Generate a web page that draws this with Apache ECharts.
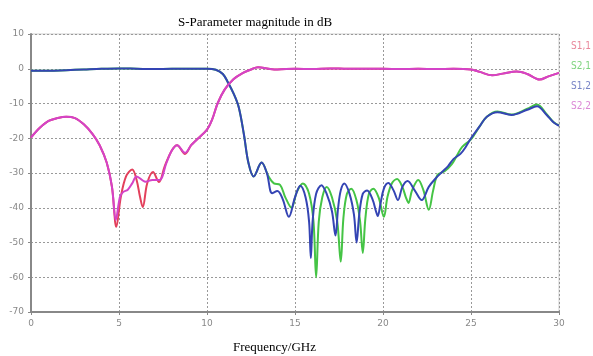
<!DOCTYPE html>
<html>
<head>
<meta charset="utf-8">
<script src="https://cdn.jsdelivr.net/npm/echarts@6/dist/echarts.min.js"></script>
<style>html,body{margin:0;padding:0;background:#fff}#c{width:593px;height:356px}</style>
</head>
<body>
<div id="c"></div>
<script>
var seriesNames = ['S1,1', 'S2,1', 'S1,2', 'S2,2'];
var xTicks = [0, 5, 10, 15, 20, 25, 30];
var yTicks = [10, 0, -10, -20, -30, -40, -50, -60, -70];

var s11 = [[0,-19.8],[0.5,-17],[1,-15],[1.5,-14.2],[2,-13.8],[2.5,-14.2],[3,-16],[3.5,-18.8],[3.9,-22],[4.3,-27],[4.6,-34],[4.85,-45.5],[5.1,-37],[5.4,-31],[5.75,-29],[6.0,-32],[6.2,-37],[6.35,-39.8],[6.6,-33],[6.93,-29.7],[7.27,-32.6],[7.6,-28],[8.0,-23.5],[8.3,-22],[8.75,-24.5],[9.1,-22],[9.4,-20.5],[10,-17.5],[10.3,-14.5],[10.6,-10],[11,-6],[11.5,-3],[12,-1.3],[12.5,-0.2],[12.9,0.4],[13.5,0],[14,-0.2],[15,0],[16,-0.1],[17,0.1],[18,0],[19,0],[20,0],[21,-0.1],[22,0],[23,-0.1],[24,0],[25,-0.2],[25.5,-0.9],[26.2,-1.9],[26.8,-1.4],[27.6,-0.8],[28.2,-1.5],[28.9,-3.1],[29.4,-2.2],[30,-1.2]];

var s22 = [[0,-19.8],[0.5,-17],[1,-15],[1.5,-14.2],[2,-13.8],[2.5,-14.2],[3,-16],[3.5,-18.8],[3.9,-22],[4.3,-27],[4.6,-34],[4.82,-43.5],[5.05,-37],[5.23,-35.5],[5.5,-34.8],[5.75,-33],[6.0,-31],[6.5,-32.5],[6.9,-32],[7.3,-32],[7.7,-27],[8.0,-23.5],[8.3,-22],[8.75,-24.2],[9.1,-22],[9.4,-20.5],[10,-17.5],[10.3,-14.5],[10.6,-10],[11,-6],[11.5,-3],[12,-1.3],[12.5,-0.2],[12.9,0.4],[13.5,0],[14,-0.2],[15,0],[16,-0.1],[17,0.1],[18,0],[19,0],[20,0],[21,-0.1],[22,0],[23,-0.1],[24,0],[25,-0.2],[25.5,-0.9],[26.2,-1.9],[26.8,-1.4],[27.6,-0.8],[28.2,-1.5],[28.9,-3.1],[29.4,-2.2],[30,-1.2]];

var s12 = [[0,-0.6],[1,-0.6],[2,-0.4],[3,-0.2],[4,0],[5,0.1],[6,0],[7,-0.1],[8,0],[9,0],[10,0],[10.5,-0.3],[10.9,-1.5],[11.2,-4],[11.5,-7],[11.8,-11],[12.1,-19],[12.35,-27],[12.65,-31],[13.1,-27],[13.4,-30],[13.7,-35.8],[14.0,-35.2],[14.3,-37.5],[14.65,-42.6],[15.0,-37],[15.3,-33.7],[15.6,-37],[15.8,-44],[15.9,-54.5],[16.0,-44],[16.2,-36],[16.5,-33.5],[16.8,-36],[17.1,-41],[17.3,-48],[17.45,-40],[17.6,-35],[17.8,-33],[18.1,-36],[18.35,-42],[18.5,-50],[18.65,-42],[18.85,-36],[19.1,-35],[19.4,-37.5],[19.6,-41],[19.7,-42.4],[19.85,-39],[20.05,-34.5],[20.3,-32.9],[20.6,-35],[20.85,-37.8],[21.1,-34],[21.4,-32.3],[21.8,-35],[22.2,-37.8],[22.6,-34],[23.0,-31.5],[23.4,-29.5],[23.7,-28],[24.0,-26],[24.4,-24.5],[24.7,-22.5],[25.0,-20],[25.5,-16.5],[25.9,-13.8],[26.5,-12.5],[27.3,-13.3],[28.2,-11.8],[28.75,-10.8],[29.3,-13.3],[29.7,-15.5],[30,-16.4]];

var s21 = [[0,-0.6],[1,-0.6],[2,-0.4],[3,-0.2],[4,0],[5,0.1],[6,0],[7,-0.1],[8,0],[9,0],[10,0],[10.5,-0.3],[10.9,-1.5],[11.2,-4],[11.5,-7],[11.8,-11],[12.1,-19],[12.35,-27],[12.65,-31],[13.1,-27],[13.5,-31],[13.8,-33],[14.15,-33.4],[14.45,-37],[14.8,-40],[15.1,-35.5],[15.45,-33],[15.8,-36],[16.05,-44],[16.2,-60],[16.35,-44],[16.55,-37],[16.8,-34],[17.1,-37],[17.4,-44],[17.6,-55.5],[17.75,-43],[17.95,-36],[18.2,-34.5],[18.5,-38],[18.7,-44],[18.85,-53],[19.0,-43],[19.2,-36],[19.45,-34.5],[19.75,-37],[20.05,-42.6],[20.25,-37],[20.5,-33],[20.8,-31.7],[21.1,-34],[21.3,-37],[21.45,-38.6],[21.65,-35],[22.0,-32],[22.3,-35],[22.6,-40.6],[22.85,-35],[23.1,-30.5],[23.5,-29.5],[23.9,-27.5],[24.2,-25],[24.5,-22.5],[25.0,-20.3],[25.5,-16.5],[25.9,-13.8],[26.5,-12.3],[27.3,-13.2],[28.2,-11.5],[28.75,-10.3],[29.3,-13.1],[29.7,-15.4],[30,-16.3]];

var lineColors = {'S1,1':'#e3405c','S2,1':'#45c445','S1,2':'#3444b4','S2,2':'#d443c8'};
var legendColors = {'S1,1':'#e9879b','S2,1':'#7fd47f','S1,2':'#7884c6','S2,2':'#dc88d6'};

var chart = echarts.init(document.getElementById('c'), null, {renderer:'canvas'});
function mk(name, data, z){
  return {name:name, type:'line', data:data, smooth:0.35, symbol:'none', z:z,
    lineStyle:{color:lineColors[name], width:2}, itemStyle:{color:lineColors[name]}};
}
chart.setOption({
  animation:false,
  title:{text:'S-Parameter magnitude in dB', left:173, top:11,
    textStyle:{fontFamily:'Liberation Serif', fontSize:13, fontWeight:'normal', color:'#000'}},
  legend:{orient:'vertical', left:561, top:35, itemWidth:0, itemHeight:0, itemGap:7,
    icon:'rect', selectedMode:false,
    data: seriesNames.map(function(n){return {name:n, textStyle:{color:legendColors[n]}};}),
    textStyle:{fontFamily:'DejaVu Sans Condensed', fontSize:10, lineHeight:13}},
  grid:{left:31, right:34, top:34, bottom:44, show:true, borderColor:'#cfcfcf', borderWidth:1},
  xAxis:{type:'value', min:xTicks[0], max:xTicks[xTicks.length-1], interval:5,
    axisLine:{show:true, onZero:false, lineStyle:{color:'#888', width:2}},
    axisTick:{show:true, length:3, inside:false, lineStyle:{color:'#888'}},
    axisLabel:{color:'#888', fontSize:9, fontFamily:'DejaVu Sans', margin:7},
    splitLine:{show:true, lineStyle:{color:'#999', type:[2,2], width:1}}},
  yAxis:{type:'value', min:yTicks[yTicks.length-1], max:yTicks[0], interval:10,
    axisLine:{show:true, onZero:false, lineStyle:{color:'#888', width:2}},
    axisTick:{show:true, length:3, lineStyle:{color:'#888'}},
    axisLabel:{color:'#888', fontSize:9, fontFamily:'DejaVu Sans', margin:7},
    splitLine:{show:true, lineStyle:{color:'#999', type:[2,2], width:1}}},
  graphic:[{type:'text', left:233, top:341,
    style:{text:'Frequency/GHz', font:'13px "Liberation Serif"', fill:'#000'}}],
  series:[mk('S1,1', s11, 2), mk('S2,1', s21, 3), mk('S1,2', s12, 4), mk('S2,2', s22, 5)]
});
</script>
</body>
</html>
